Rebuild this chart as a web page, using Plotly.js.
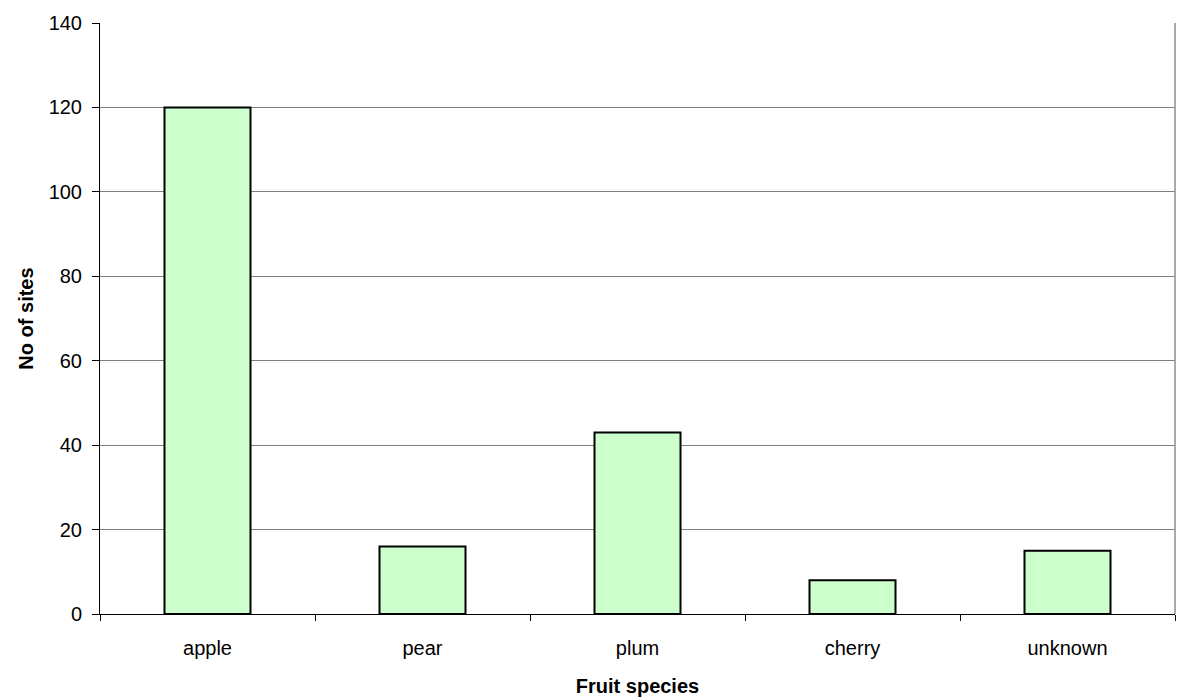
<!DOCTYPE html>
<html>
<head>
<meta charset="utf-8">
<script src="https://cdn.plot.ly/plotly-3.0.1.min.js"></script>
<style>
  html, body { margin: 0; padding: 0; background: #ffffff; }
  #chart { width: 1177px; height: 697px; }
</style>
</head>
<body>
<div id="chart"></div>
<script>
// Number of sites recorded for each fruit species
const species = ["apple", "pear", "plum", "cherry", "unknown"];
const siteCounts = [120, 16, 43, 8, 15];
const yTickValues = [0, 20, 40, 60, 80, 100, 120, 140];

const FONT = "Liberation Sans, Arial, sans-serif";

const trace = {
  type: "bar",
  x: species,
  y: siteCounts,
  width: 0.4,
  marker: {
    color: "#CCFFCC",
    line: { color: "#000000", width: 2 }
  },
  hoverinfo: "x+y"
};

const layout = {
  width: 1177,
  height: 697,
  margin: { l: 100, r: 2, t: 23, b: 83 },
  paper_bgcolor: "#ffffff",
  plot_bgcolor: "#ffffff",
  showlegend: false,
  font: { family: FONT, size: 20, color: "#000000" },
  xaxis: {
    type: "category",
    tickson: "boundaries",
    ticks: "outside",
    ticklen: 6,
    tickcolor: "#000000",
    tickwidth: 1,
    ticklabelstandoff: 16,
    showline: true,
    linecolor: "#000000",
    linewidth: 1,
    showgrid: false,
    tickfont: { family: FONT, size: 20, color: "#000000" },
    title: {
      text: "<b>Fruit species</b>",
      font: { family: FONT, size: 20, color: "#000000" },
      standoff: 21
    }
  },
  yaxis: {
    range: [0, 140],
    tickvals: yTickValues,
    ticks: "outside",
    ticklen: 7,
    tickcolor: "#000000",
    ticklabelstandoff: 6,
    showline: true,
    linecolor: "#000000",
    linewidth: 1,
    showgrid: true,
    gridcolor: "#808080",
    gridwidth: 1,
    zeroline: false,
    tickfont: { family: FONT, size: 20, color: "#000000" },
    title: {
      text: "<b>No of sites</b>",
      font: { family: FONT, size: 20, color: "#000000" },
      standoff: 9
    }
  },
  shapes: [
    {
      type: "line", xref: "paper", yref: "paper",
      x0: 1, x1: 1, y0: 0, y1: 1,
      line: { color: "#8c8c8c", width: 1.5 }
    }
  ]
};

Plotly.newPlot("chart", [trace], layout, { displayModeBar: false, staticPlot: true });
</script>
</body>
</html>
